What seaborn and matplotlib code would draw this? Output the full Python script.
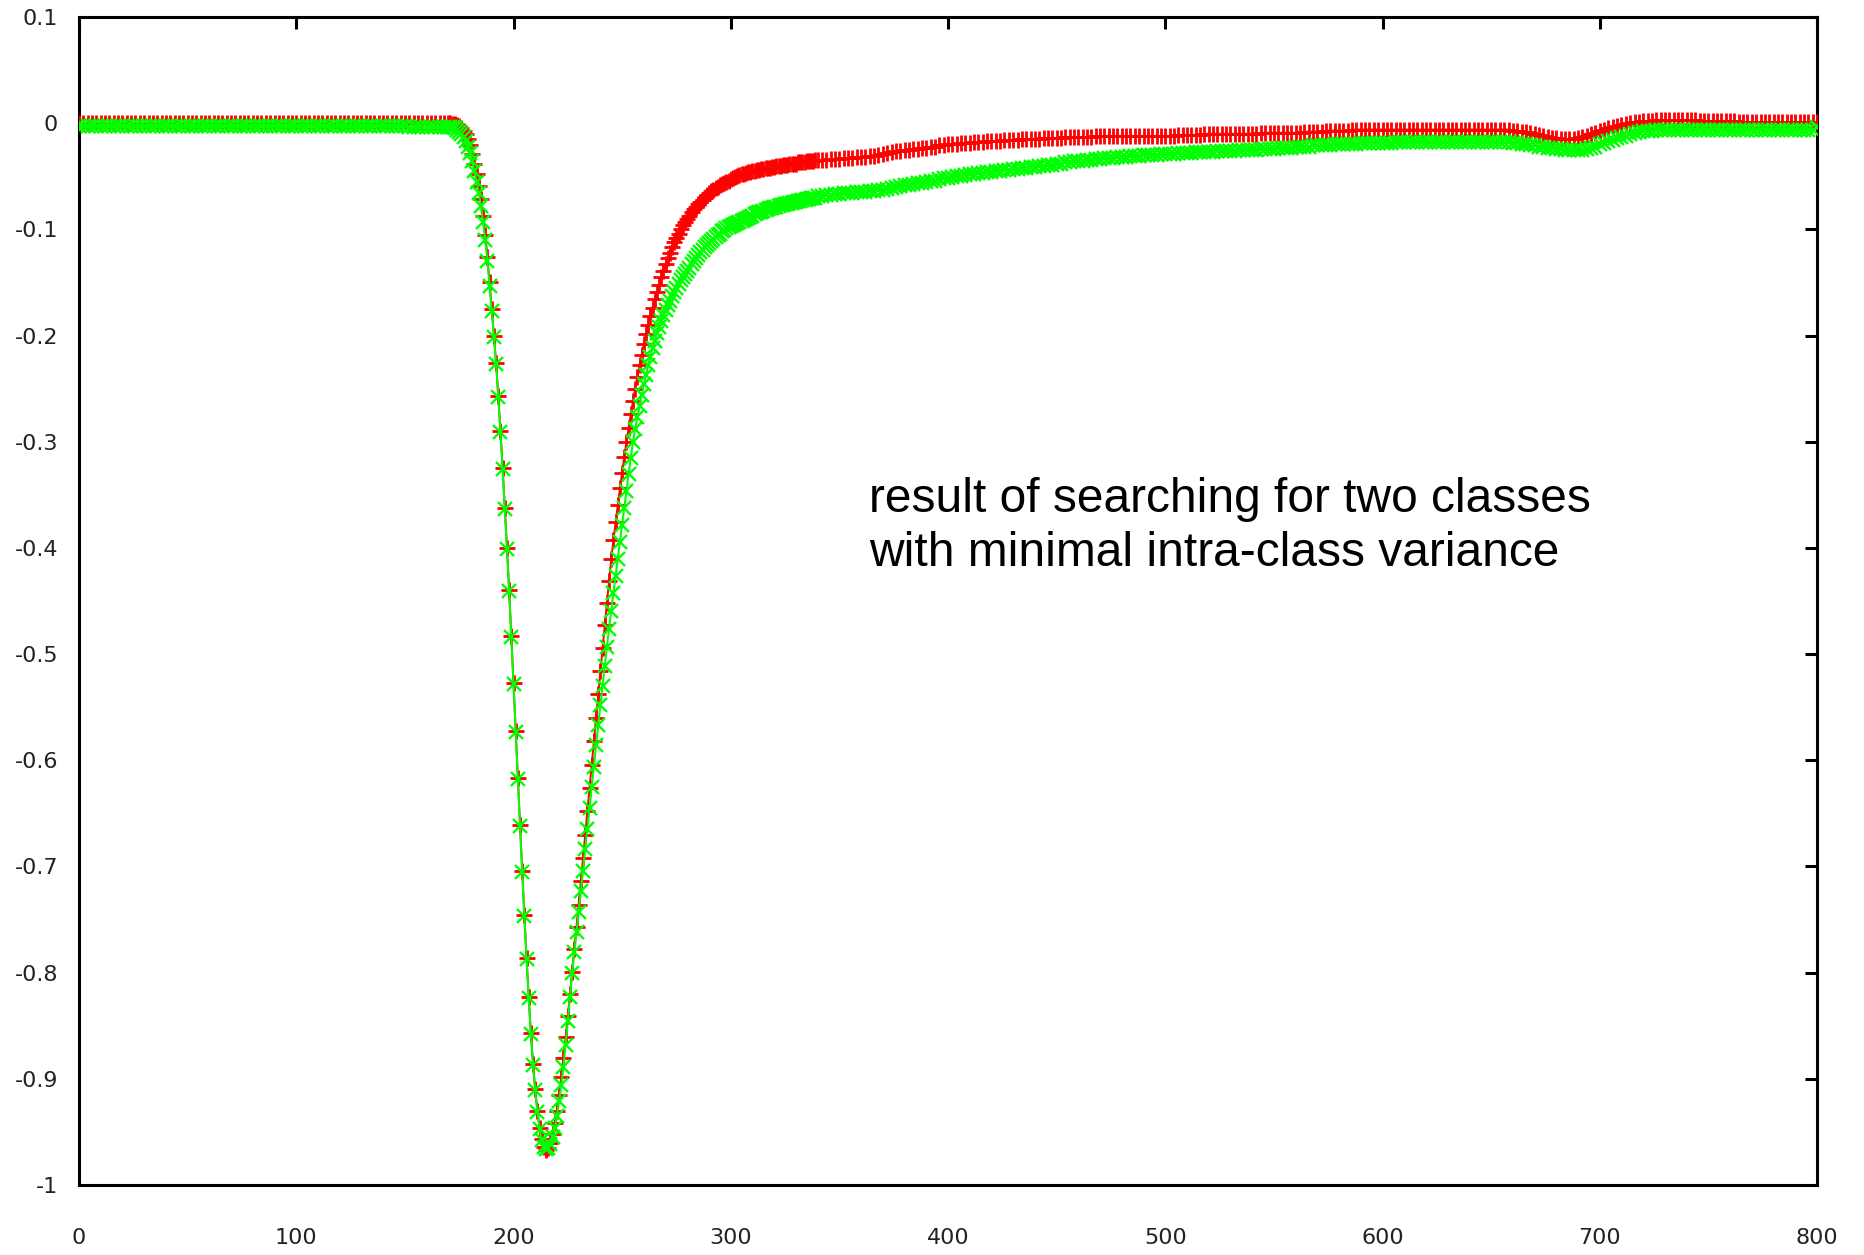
import numpy as np
import matplotlib
matplotlib.use("Agg")
import matplotlib.pyplot as plt
import seaborn as sns

# ---------------- data ----------------
x_flat = np.arange(0, 171, 2)      # 0..170
x_dip = np.arange(171, 341, 1)     # 171..340
x_tail = np.arange(342, 801, 2)    # 342..800

red_flat = [
    0.0, 0.0, 0.0, 0.0, 0.0, 0.0, 0.0, 0.0, 0.0, 0.0,
    0.0, 0.0, 0.0, 0.0, 0.0, 0.0, 0.0, 0.0, 0.0, 0.0,
    0.0, 0.0, 0.0, 0.0, 0.0, 0.0, 0.0, 0.0, 0.0, 0.0,
    0.0, 0.0, 0.0, 0.0, 0.0, 0.0, 0.0, 0.0, 0.0, 0.0,
    0.0, 0.0, 0.0, 0.0, 0.0, 0.0, 0.0, 0.0, 0.0, 0.0,
    0.0, 0.0, 0.0, 0.0, 0.0, 0.0, 0.0, 0.0, 0.0, 0.0,
    0.0, 0.0, 0.0, 0.0, 0.0, 0.0, 0.0, 0.0, 0.0, 0.0,
    0.0, 0.0, 0.0, 0.0, 0.0, 0.0, 0.0, 0.0, 0.0, 0.0,
    0.0, 0.0, 0.0, 0.0, 0.0, 0.0,
]
green_flat = [
    -0.003, -0.003, -0.003, -0.003, -0.003, -0.003, -0.003, -0.003, -0.003, -0.003,
    -0.003, -0.003, -0.003, -0.003, -0.003, -0.003, -0.003, -0.003, -0.003, -0.003,
    -0.003, -0.003, -0.003, -0.003, -0.003, -0.003, -0.003, -0.003, -0.003, -0.003,
    -0.003, -0.003, -0.003, -0.003, -0.003, -0.003, -0.003, -0.003, -0.003, -0.003,
    -0.003, -0.003, -0.003, -0.003, -0.003, -0.003, -0.003, -0.003, -0.003, -0.003,
    -0.003, -0.003, -0.003, -0.003, -0.003, -0.003, -0.003, -0.003, -0.003, -0.003,
    -0.003, -0.003, -0.003, -0.003, -0.003, -0.003, -0.003, -0.003, -0.003, -0.003,
    -0.003, -0.003, -0.003, -0.003, -0.003, -0.003, -0.004, -0.004, -0.004, -0.004,
    -0.004, -0.004, -0.004, -0.004, -0.004, -0.004,
]

red_dip = [
    0.000, -0.001, -0.001, -0.002, -0.003, -0.005, -0.007, -0.010, -0.015, -0.021,
    -0.029, -0.038, -0.048, -0.059, -0.071, -0.087, -0.105, -0.126, -0.150, -0.175,
    -0.200, -0.226, -0.257, -0.290, -0.325, -0.362, -0.400, -0.440, -0.483, -0.527,
    -0.572, -0.617, -0.661, -0.704, -0.746, -0.786, -0.823, -0.857, -0.886, -0.910,
    -0.930, -0.946, -0.957, -0.964, -0.967, -0.965, -0.960, -0.952, -0.942, -0.930,
    -0.915, -0.898, -0.880, -0.861, -0.841, -0.820, -0.799, -0.778, -0.757, -0.736,
    -0.714, -0.692, -0.670, -0.648, -0.626, -0.604, -0.582, -0.560, -0.538, -0.516,
    -0.494, -0.473, -0.452, -0.431, -0.410, -0.393, -0.376, -0.360, -0.344, -0.329,
    -0.314, -0.300, -0.287, -0.274, -0.262, -0.250, -0.239, -0.228, -0.218, -0.208,
    -0.199, -0.190, -0.182, -0.174, -0.166, -0.159, -0.152, -0.145, -0.139, -0.133,
    -0.127, -0.122, -0.117, -0.112, -0.108, -0.104, -0.100, -0.096, -0.093, -0.090,
    -0.087, -0.084, -0.081, -0.079, -0.076, -0.074, -0.072, -0.070, -0.068, -0.066,
    -0.064, -0.063, -0.061, -0.060, -0.058, -0.057, -0.056, -0.055, -0.054, -0.053,
    -0.052, -0.051, -0.050, -0.049, -0.048, -0.048, -0.047, -0.046, -0.046, -0.045,
    -0.045, -0.044, -0.044, -0.043, -0.043, -0.042, -0.042, -0.042, -0.041, -0.041,
    -0.040, -0.040, -0.040, -0.039, -0.039, -0.039, -0.038, -0.038, -0.038, -0.038,
    -0.037, -0.037, -0.037, -0.037, -0.036, -0.036, -0.036, -0.036, -0.035, -0.035,
]
green_dip = [
    -0.004, -0.004, -0.005, -0.006, -0.008, -0.010, -0.013, -0.017, -0.022, -0.028,
    -0.036, -0.045, -0.055, -0.066, -0.078, -0.093, -0.110, -0.130, -0.153, -0.177,
    -0.201, -0.227, -0.258, -0.291, -0.326, -0.363, -0.401, -0.441, -0.484, -0.528,
    -0.573, -0.618, -0.662, -0.705, -0.747, -0.787, -0.824, -0.858, -0.887, -0.911,
    -0.931, -0.947, -0.958, -0.964, -0.966, -0.965, -0.961, -0.955, -0.946, -0.935,
    -0.921, -0.906, -0.889, -0.868, -0.846, -0.823, -0.800, -0.781, -0.762, -0.743,
    -0.723, -0.704, -0.684, -0.665, -0.645, -0.625, -0.606, -0.586, -0.567, -0.548,
    -0.530, -0.511, -0.493, -0.476, -0.459, -0.442, -0.426, -0.410, -0.394, -0.378,
    -0.362, -0.346, -0.330, -0.315, -0.300, -0.288, -0.277, -0.266, -0.256, -0.246,
    -0.237, -0.228, -0.220, -0.212, -0.205, -0.198, -0.192, -0.186, -0.181, -0.176,
    -0.171, -0.167, -0.163, -0.159, -0.155, -0.151, -0.148, -0.145, -0.142, -0.139,
    -0.136, -0.133, -0.130, -0.127, -0.124, -0.121, -0.119, -0.117, -0.115, -0.113,
    -0.111, -0.109, -0.107, -0.105, -0.104, -0.102, -0.101, -0.099, -0.098, -0.097,
    -0.096, -0.095, -0.094, -0.093, -0.092, -0.091, -0.090, -0.089, -0.088, -0.087,
    -0.086, -0.085, -0.084, -0.084, -0.083, -0.082, -0.081, -0.080, -0.080, -0.079,
    -0.079, -0.078, -0.077, -0.077, -0.076, -0.076, -0.075, -0.075, -0.074, -0.074,
    -0.073, -0.073, -0.072, -0.072, -0.071, -0.071, -0.070, -0.070, -0.070, -0.069,
]

red_tail = [
    -0.035, -0.035, -0.034, -0.034, -0.034, -0.033, -0.033, -0.033, -0.032, -0.032,
    -0.032, -0.031, -0.031, -0.030, -0.029, -0.028, -0.027, -0.026, -0.026, -0.025,
    -0.025, -0.024, -0.024, -0.023, -0.023, -0.022, -0.022, -0.021, -0.021, -0.020,
    -0.020, -0.020, -0.019, -0.019, -0.019, -0.018, -0.018, -0.018, -0.017, -0.017,
    -0.017, -0.017, -0.016, -0.016, -0.016, -0.016, -0.015, -0.015, -0.015, -0.015,
    -0.015, -0.014, -0.014, -0.014, -0.014, -0.014, -0.013, -0.013, -0.013, -0.013,
    -0.013, -0.013, -0.013, -0.012, -0.012, -0.012, -0.012, -0.012, -0.012, -0.012,
    -0.012, -0.012, -0.012, -0.012, -0.012, -0.012, -0.012, -0.012, -0.012, -0.012,
    -0.012, -0.012, -0.011, -0.011, -0.011, -0.011, -0.011, -0.011, -0.010, -0.010,
    -0.010, -0.010, -0.010, -0.010, -0.010, -0.010, -0.010, -0.010, -0.010, -0.010,
    -0.010, -0.009, -0.009, -0.009, -0.009, -0.009, -0.009, -0.009, -0.009, -0.009,
    -0.009, -0.008, -0.008, -0.008, -0.008, -0.008, -0.007, -0.007, -0.007, -0.007,
    -0.007, -0.007, -0.006, -0.006, -0.006, -0.006, -0.006, -0.006, -0.006, -0.006,
    -0.006, -0.006, -0.006, -0.006, -0.006, -0.006, -0.006, -0.006, -0.006, -0.006,
    -0.006, -0.006, -0.006, -0.006, -0.006, -0.006, -0.006, -0.006, -0.006, -0.006,
    -0.006, -0.006, -0.006, -0.006, -0.006, -0.006, -0.006, -0.006, -0.006, -0.007,
    -0.007, -0.008, -0.008, -0.009, -0.010, -0.011, -0.012, -0.013, -0.014, -0.014,
    -0.015, -0.015, -0.015, -0.015, -0.014, -0.013, -0.012, -0.010, -0.009, -0.007,
    -0.006, -0.005, -0.004, -0.003, -0.002, -0.001, 0.000, 0.001, 0.001, 0.002,
    0.002, 0.002, 0.003, 0.003, 0.003, 0.003, 0.003, 0.003, 0.003, 0.003,
    0.003, 0.003, 0.002, 0.002, 0.002, 0.002, 0.002, 0.002, 0.002, 0.002,
    0.002, 0.001, 0.001, 0.001, 0.001, 0.001, 0.001, 0.001, 0.001, 0.001,
    0.001, 0.001, 0.001, 0.001, 0.001, 0.001, 0.001, 0.001, 0.001, 0.001,
]
green_tail = [
    -0.069, -0.068, -0.068, -0.067, -0.067, -0.066, -0.066, -0.066, -0.065, -0.065,
    -0.065, -0.064, -0.064, -0.063, -0.063, -0.062, -0.061, -0.060, -0.059, -0.058,
    -0.058, -0.057, -0.056, -0.056, -0.055, -0.054, -0.054, -0.053, -0.052, -0.052,
    -0.051, -0.050, -0.050, -0.049, -0.048, -0.048, -0.047, -0.047, -0.046, -0.046,
    -0.045, -0.045, -0.044, -0.044, -0.043, -0.043, -0.042, -0.042, -0.041, -0.041,
    -0.040, -0.040, -0.039, -0.039, -0.038, -0.038, -0.037, -0.037, -0.036, -0.036,
    -0.036, -0.035, -0.035, -0.034, -0.034, -0.033, -0.033, -0.033, -0.032, -0.032,
    -0.032, -0.031, -0.031, -0.031, -0.030, -0.030, -0.030, -0.030, -0.029, -0.029,
    -0.029, -0.029, -0.028, -0.028, -0.028, -0.028, -0.027, -0.027, -0.027, -0.027,
    -0.027, -0.026, -0.026, -0.026, -0.026, -0.026, -0.025, -0.025, -0.025, -0.025,
    -0.025, -0.024, -0.024, -0.024, -0.024, -0.023, -0.023, -0.023, -0.023, -0.022,
    -0.022, -0.022, -0.022, -0.021, -0.021, -0.021, -0.021, -0.021, -0.020, -0.020,
    -0.020, -0.020, -0.020, -0.020, -0.019, -0.019, -0.019, -0.019, -0.019, -0.019,
    -0.019, -0.019, -0.018, -0.018, -0.018, -0.018, -0.018, -0.018, -0.018, -0.018,
    -0.018, -0.018, -0.018, -0.018, -0.018, -0.018, -0.018, -0.018, -0.018, -0.018,
    -0.018, -0.018, -0.018, -0.018, -0.018, -0.018, -0.018, -0.018, -0.018, -0.019,
    -0.019, -0.020, -0.020, -0.021, -0.021, -0.022, -0.022, -0.023, -0.023, -0.024,
    -0.024, -0.025, -0.025, -0.025, -0.025, -0.025, -0.024, -0.023, -0.022, -0.020,
    -0.019, -0.017, -0.016, -0.014, -0.013, -0.012, -0.010, -0.009, -0.008, -0.007,
    -0.007, -0.007, -0.006, -0.006, -0.006, -0.006, -0.006, -0.006, -0.006, -0.006,
    -0.006, -0.006, -0.006, -0.006, -0.006, -0.006, -0.006, -0.006, -0.006, -0.006,
    -0.006, -0.006, -0.006, -0.006, -0.006, -0.006, -0.006, -0.006, -0.006, -0.006,
    -0.006, -0.006, -0.006, -0.006, -0.006, -0.006, -0.006, -0.006, -0.006, -0.004,
]

x_ticks = [0, 100, 200, 300, 400, 500, 600, 700, 800]
x_tick_labels = ["0", "100", "200", "300", "400", "500", "600", "700", "800"]
y_ticks = [0.1, 0.0, -0.1, -0.2, -0.3, -0.4, -0.5, -0.6, -0.7, -0.8, -0.9, -1.0]
y_tick_labels = ["0.1", "0", "-0.1", "-0.2", "-0.3", "-0.4", "-0.5", "-0.6",
                 "-0.7", "-0.8", "-0.9", "-1"]

annotation_lines = ["result of searching for two classes",
                    "with minimal intra-class variance"]

x_all = np.concatenate([x_flat, x_dip, x_tail])
red_all = np.array(red_flat + red_dip + red_tail)
green_all = np.array(green_flat + green_dip + green_tail)
assert len(red_all) == len(x_all) and len(green_all) == len(x_all)

# ---------------- figure ----------------
sns.set_style("white")
plt.rcParams["font.family"] = ["DejaVu Sans"]

W, H = 1865, 1255
fig = plt.figure(figsize=(W / 100, H / 100), dpi=100)
L, R, T, B = 79, 1817, 17, 1185
ax = fig.add_axes([L / W, 1 - B / H, (R - L) / W, (B - T) / H])

sns.lineplot(x=x_all, y=red_all, ax=ax, color="#ff0000", linewidth=1.4,
             marker="+", markersize=12, markeredgewidth=2.0,
             markeredgecolor="#ff0000", errorbar=None, zorder=3)
sns.lineplot(x=x_all, y=green_all, ax=ax, color="#00ff00", linewidth=1.5,
             marker="x", markersize=9.5, markeredgewidth=1.7,
             markeredgecolor="#00ff00", errorbar=None, zorder=4)

ax.set_xlim(0, 800)
ax.set_ylim(-1.0, 0.1)
ax.set_xticks(x_ticks)
ax.set_xticklabels(x_tick_labels)
ax.set_yticks(y_ticks)
ax.set_yticklabels(y_tick_labels)
ax.set_xlabel("")
ax.set_ylabel("")

for s in ax.spines.values():
    s.set_visible(True)
    s.set_color("black")
    s.set_linewidth(2.2)

ax.tick_params(axis="both", which="major", direction="in", length=8.5,
               width=2.2, color="black", top=True, right=True,
               labelsize=16, labelcolor="#222222")
ax.tick_params(axis="x", pad=31)
ax.tick_params(axis="y", pad=15)
ax.grid(False)

ax.text(363.6, -0.366, annotation_lines[0], fontsize=34.5,
        family=["Liberation Sans", "DejaVu Sans"], color="black",
        ha="left", va="baseline")
ax.text(363.6, -0.417, annotation_lines[1], fontsize=34.5,
        family=["Liberation Sans", "DejaVu Sans"], color="black",
        ha="left", va="baseline")

fig.savefig("out.png", dpi=100, facecolor="white")
